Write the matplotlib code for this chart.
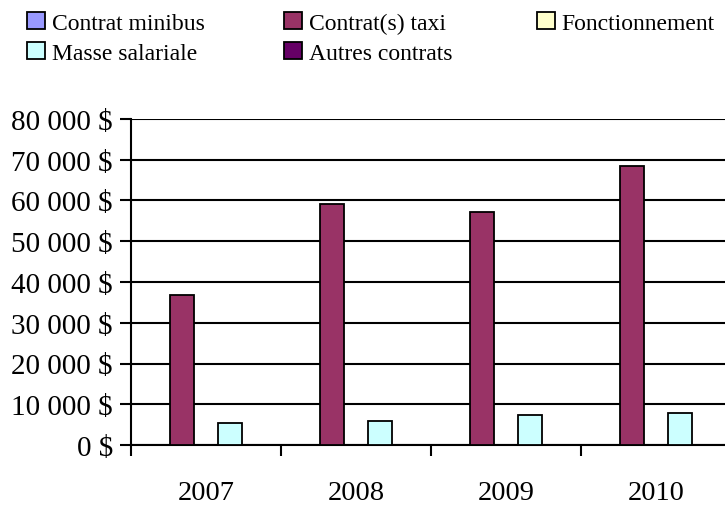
import matplotlib.pyplot as plt
import numpy as np
from matplotlib.ticker import FuncFormatter

years = ['2007', '2008', '2009', '2010']
series = ['Contrat minibus', 'Contrat(s) taxi', 'Fonctionnement',
          'Masse salariale', 'Autres contrats']
minibus = [0, 0, 0, 0]
taxi = [36900, 59100, 57100, 68400]
fonctionnement = [0, 0, 0, 0]
masse = [5400, 6000, 7400, 7900]
autres = [0, 0, 0, 0]
colors = ['#9999FF', '#993366', '#FFFFCC', '#CCFFFF', '#660066']

plt.rcParams['font.family'] = ['Liberation Serif', 'DejaVu Serif']

fig = plt.figure(figsize=(7.25, 5.06), dpi=100)
ax = fig.add_axes([131 / 725, 60 / 506, 600 / 725, 326 / 506])

x = np.arange(len(years))
w = 0.158
values = [minibus, taxi, fonctionnement, masse, autres]
bars = []
for i, (vals, name, c) in enumerate(zip(values, series, colors)):
    b = ax.bar(x + (i - 2) * w, vals, w, color=c, edgecolor='black',
               linewidth=1.3, label=name, zorder=3)
    bars.append(b)

ax.set_xlim(-0.5, 3.5)
ax.set_ylim(0, 80000)
ax.set_yticks(np.arange(0, 80001, 10000))
ax.yaxis.set_major_formatter(FuncFormatter(
    lambda v, p: f'{int(v):,} $'.replace(',', ' ')))
ax.grid(axis='y', color='black', linewidth=1.5, zorder=0)

ax.set_xticks(x)
ax.set_xticklabels(years)
ax.set_xticks(np.arange(-0.5, 3.6, 1), minor=True)
ax.tick_params(axis='x', which='major', length=0, pad=25, labelsize=20.5)
ax.tick_params(axis='x', which='minor', length=8, width=1.5, direction='out')
ax.tick_params(axis='y', length=8, width=1.5, direction='out', pad=5,
               labelsize=21)

for s in ['top', 'right']:
    ax.spines[s].set_visible(False)
ax.spines['left'].set_linewidth(1.5)
ax.spines['bottom'].set_linewidth(1.5)

# legend laid out as three fixed columns
columns = [([0, 3], 27), ([1, 4], 284), ([2], 537)]
for idx, xpos in columns:
    leg = fig.legend([bars[i] for i in idx], [series[i] for i in idx],
                     loc='upper left', bbox_to_anchor=(xpos / 725, 1 - 13 / 506),
                     frameon=False, fontsize=17, handlelength=0.75,
                     handleheight=0.75, handletextpad=0.3, labelspacing=0.35,
                     borderpad=0, borderaxespad=0)

fig.savefig('out.png', dpi=100)
